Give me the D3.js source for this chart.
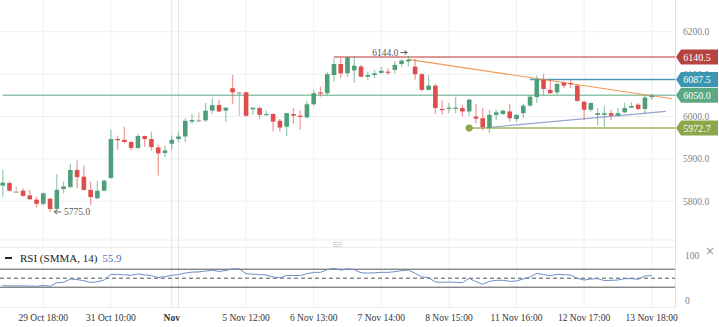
<!DOCTYPE html>
<html>
<head>
<meta charset="utf-8">
<script src="https://cdn.jsdelivr.net/npm/d3@7/dist/d3.min.js"></script>
<style>
  html, body { margin: 0; padding: 0; background: #fff; }
  svg { display: block; font-family: "Liberation Serif", "DejaVu Serif", serif; }
</style>
</head>
<body>
<svg id="chart" width="719" height="327"></svg>
<script>
// candle data (hourly bars, oldest first)
var open  = [5837,5843,5823,5825,5814,5804,5794,5806,5782,5829,5834,5874,5858,5827,5807,5825,5855,5947,5945,5940,
             5926,5954,5947,5927,5914,5936,5947,5953,5988,5991,5991,6014,6027,6014,6067,6057,6057,6017,6020,6004,
             6006,5990,5976,6006,6002,5998,6029,6057,6055,6098,6124,6102,6109,6118,6094,6098,6103,6106,6110,6124,
             6130,6118,6100,6063,6073,6018,6019,6019,6020,6012,6000,5996,5973,6004,6006,6012,5994,6008,6026,6046,
             6087,6063,6057,6080,6079,6073,6035,6016,6004,6004,6008,6002,6010,6021,6028,6018,6046];
var high  = [5874,5847,5835,5831,5827,5811,5821,5808,5864,5847,5889,5896,5884,5847,5848,5850,5969,5955,5976,5943,
             5959,5955,5964,5933,5931,5955,5965,5996,6006,6010,6032,6043,6039,6021,6098,6058,6059,6021,6024,6014,
             6007,5994,6009,6020,6014,6037,6063,6071,6106,6138,6138,6141,6143,6122,6106,6110,6117,6114,6130,6136,
             6144,6136,6102,6097,6077,6038,6032,6047,6028,6042,6030,6020,6016,6016,6016,6030,6006,6030,6051,6097,
             6101,6087,6079,6083,6087,6075,6037,6033,6020,6025,6016,6020,6032,6034,6032,6051,6053];
var low   = [5811,5823,5822,5811,5803,5785,5790,5775,5777,5819,5831,5831,5825,5792,5805,5824,5853,5921,5937,5920,
             5923,5929,5920,5861,5904,5923,5940,5940,5983,5987,5987,6006,6010,5988,6030,6002,5999,6004,5995,6003,
             5965,5965,5954,5983,5969,5996,6026,6047,6051,6083,6091,6094,6079,6093,6085,6091,6101,6098,6102,6118,
             6118,6087,6059,6061,6006,6004,6008,6008,6000,6002,5984,5967,5961,5992,6004,5988,5988,5996,6022,6032,
             6051,6054,6051,6067,6067,6035,5992,6012,5980,5976,5992,6000,6008,6020,6014,6008,6039];
var close = [5844,5825,5823,5813,5805,5794,5819,5782,5827,5835,5874,5857,5827,5810,5825,5849,5947,5944,5940,5926,
             5954,5947,5928,5913,5920,5945,5953,5990,5992,5991,6014,6027,6012,6021,6057,6057,6002,6021,6004,6006,
             5988,5974,6008,6002,5999,6029,6055,6054,6100,6124,6102,6140,6120,6094,6098,6102,6108,6105,6122,6132,
             6134,6100,6063,6073,6020,6015,6021,6021,6012,6040,5995,5975,6004,6010,6014,5996,6004,6026,6047,6087,
             6065,6055,6077,6073,6077,6037,6016,6032,6008,6008,6002,6008,6020,6025,6018,6045,6050];

// RSI (SMMA, 14)
var rsi = [33.5,33,33,33,32.5,32,34,32,40,41,48,47,44.5,40.5,42,46,58.5,58.5,57.5,56.5,
           59.5,57.5,55.5,51.5,53.5,56.5,58,61.5,63.5,64,66,67.5,65,67,71,70.5,60,59,58,57,
           52.5,51,56,56,56,60,63,63,69,72,68,71,69,62,61.5,62,63,63,64.5,66.7,
           68.2,61,52.7,51.2,41.6,40.8,41.6,40.8,40,49.7,42.3,36.4,43,45.3,45.3,43,43.8,48.2,52.7,60.8,
           57.9,55.6,58.6,57.9,57.1,49.7,46,48.2,49,44.5,45.3,46,49,49,47.5,54.9,55.9];

// time axis ticks (candle index -> label)
var tickIdx    = [6, 16, 25, 26, 36, 46, 56, 66, 76, 86, 96];
var tickLabels = ["29 Oct 18:00", "31 Oct 10:00", "Nov", "", "5 Nov 12:00", "6 Nov 13:00",
                  "7 Nov 14:00", "8 Nov 15:00", "11 Nov 16:00", "12 Nov 17:00", "13 Nov 18:00"];
var priceTicks = [5800, 5900, 6000, 6100, 6200];
var rsiTicks   = [0, 100];
var rsiBands   = [30, 50, 70];

// drawn levels (price, first candle index)
var levelValues = [6140.5, 6087.5, 6050.0, 5972.7];
var levelStart  = [49, 78, 0, 69];
var levelColors = ["#d07474", "#4f97b8", "#8fc6aa", "#9bb85c"];
var tagColors   = ["#b5433f", "#3b96b1", "#5ba883", "#8ba64b"];

// trend lines [index, price]
var trendDown = [[60, 6135], [99, 6042]];
var trendUp   = [[71.6, 5974], [98.1, 6012]];

// extreme labels
var lowMark  = {i: 7,  v: 5775.0};
var highMark = {i: 60, v: 6144.0};

var svg = d3.select("#chart");
var plotRight = 675;

var x = d3.scaleLinear().domain([0, 96]).range([2.74, 651.7]);
var y = d3.scaleLinear().domain([5800, 6200]).range([201.3, 31.8]);
var yr = d3.scaleLinear().domain([0, 100]).range([300.7, 255.7]);

var GREEN = "#4e9f79", RED = "#df4c4c", GRAY = "#9a9a9a";

// vertical grid
svg.append("g").selectAll("line")
    .data(tickIdx)
    .enter().append("line")
    .attr("x1", function (d) { return x(d); })
    .attr("x2", function (d) { return x(d); })
    .attr("y1", 0).attr("y2", 308)
    .attr("stroke", function (d, i) { return tickLabels[i] === "Nov" || tickLabels[i] === "" ? "#dfe3e3" : "#eef1f1"; })
    .attr("stroke-width", 1);

// horizontal grid, main pane
svg.append("g").selectAll("line")
    .data(priceTicks)
    .enter().append("line")
    .attr("x1", 0).attr("x2", plotRight)
    .attr("y1", function (d) { return y(d); })
    .attr("y2", function (d) { return y(d); })
    .attr("stroke", "#eef1f1");

// pane separators / borders
[240, 247.5, 307.5].forEach(function (yy) {
    svg.append("line").attr("x1", 0).attr("x2", plotRight)
        .attr("y1", yy).attr("y2", yy).attr("stroke", "#eceff0");
});
svg.append("line").attr("x1", plotRight + 0.5).attr("x2", plotRight + 0.5)
    .attr("y1", 0).attr("y2", 308).attr("stroke", "#dde1e1");

// pane resize handle
[242.5, 244.5, 246.5].forEach(function (yy) {
    svg.append("line").attr("x1", 333).attr("x2", 342)
        .attr("y1", yy).attr("y2", yy).attr("stroke", "#c8cccc").attr("stroke-width", 0.8);
});

// price axis
var yAxis = svg.append("g").attr("transform", "translate(" + (plotRight + 8) + ",0)")
    .call(d3.axisRight(y).tickValues(priceTicks).tickSize(0).tickFormat(d3.format(".1f")));
yAxis.select(".domain").remove();
yAxis.selectAll("text").attr("x", 0).attr("fill", "#808080").style("font-size", "9.5px")
    .style("font-family", "Liberation Serif");

// level lines
var lv = svg.append("g");
levelValues.forEach(function (v, k) {
    lv.append("line")
        .attr("x1", x(levelStart[k])).attr("x2", plotRight)
        .attr("y1", y(v)).attr("y2", y(v))
        .attr("stroke", levelColors[k]).attr("stroke-width", 1.5);
});
lv.append("circle")
    .attr("cx", x(levelStart[3])).attr("cy", y(levelValues[3]))
    .attr("r", 3.6).attr("fill", "#8fa84a");

// trend lines
var line = d3.line().x(function (d) { return x(d[0]); }).y(function (d) { return y(d[1]); });
svg.append("path").datum(trendDown).attr("d", line)
    .attr("stroke", "#f09a58").attr("stroke-width", 1.2).attr("fill", "none");
svg.append("path").datum(trendUp).attr("d", line)
    .attr("stroke", "#97a3d0").attr("stroke-width", 1.2).attr("fill", "none");

// candles
var candles = svg.append("g").selectAll("g")
    .data(d3.range(open.length))
    .enter().append("g");

function candleColor(i) {
    if (close[i] > open[i]) return GREEN;
    if (close[i] < open[i]) return RED;
    return GRAY;
}

candles.append("line")
    .attr("x1", function (i) { return x(i); })
    .attr("x2", function (i) { return x(i); })
    .attr("y1", function (i) { return y(high[i]); })
    .attr("y2", function (i) { return y(low[i]); })
    .attr("stroke", candleColor)
    .attr("stroke-opacity", 0.55)
    .attr("stroke-width", 1.3);

candles.append("rect")
    .attr("x", function (i) { return x(i) - 2.3; })
    .attr("width", 4.6)
    .attr("y", function (i) { return y(Math.max(open[i], close[i])); })
    .attr("height", function (i) { return Math.max(1.2, Math.abs(y(open[i]) - y(close[i]))); })
    .attr("fill", candleColor);

// high / low markers
var mk = svg.append("g").attr("fill", "#5a5a5a").style("font-size", "9.5px");
mk.append("path")
    .attr("d", "M" + (x(lowMark.i) + 4) + "," + y(lowMark.v) + "h7 M" + (x(lowMark.i) + 4) + "," + y(lowMark.v) +
        "l3,-2 M" + (x(lowMark.i) + 4) + "," + y(lowMark.v) + "l3,2")
    .attr("stroke", "#666").attr("fill", "none");
mk.append("text")
    .attr("x", x(lowMark.i) + 14).attr("y", y(lowMark.v)).attr("dy", "0.35em")
    .text(d3.format(".1f")(lowMark.v));
mk.append("text")
    .attr("x", x(highMark.i) - 10).attr("y", y(highMark.v)).attr("dy", "0.1em")
    .attr("text-anchor", "end")
    .text(d3.format(".1f")(highMark.v));
mk.append("path")
    .attr("d", "M" + (x(highMark.i) - 8) + "," + (y(highMark.v) - 3) + "h7 l-3,-2 M" + (x(highMark.i) - 1) + "," +
        (y(highMark.v) - 3) + "l-3,2")
    .attr("stroke", "#666").attr("fill", "none");

// level tags
var tags = svg.append("g");
levelValues.forEach(function (v, k) {
    var cy = y(v), x0 = plotRight + 1, x1 = 718, h = 7.5;
    tags.append("path")
        .attr("d", "M" + x0 + "," + cy + "L" + (x0 + 5) + "," + (cy - h) + "H" + x1 + "V" + (cy + h) +
            "H" + (x0 + 5) + "Z")
        .attr("fill", tagColors[k]);
    tags.append("text")
        .attr("x", 697).attr("y", cy).attr("dy", "0.35em")
        .attr("text-anchor", "middle").attr("fill", "#fff")
        .style("font-size", "10px")
        .text(d3.format(".1f")(v));
});

// RSI pane
rsiBands.forEach(function (b) {
    svg.append("line").attr("x1", 0).attr("x2", plotRight)
        .attr("y1", yr(b)).attr("y2", yr(b))
        .attr("stroke", "#555").attr("stroke-width", 1)
        .attr("stroke-dasharray", b === 50 ? "4,3" : null);
});
svg.append("path").datum(rsi)
    .attr("d", d3.line().x(function (d, i) { return x(i); }).y(function (d) { return yr(d); }))
    .attr("fill", "none").attr("stroke", "#6d90c6").attr("stroke-width", 1);

svg.append("g").selectAll("text")
    .data(rsiTicks)
    .enter().append("text")
    .attr("x", plotRight + 10).attr("y", function (d) { return yr(d); }).attr("dy", "0.35em")
    .attr("fill", "#808080").style("font-size", "9.5px")
    .text(function (d) { return d; });

svg.append("text").attr("x", 710).attr("y", 251).attr("dy", "0.35em")
    .attr("text-anchor", "middle").attr("fill", "#999").style("font-size", "12px")
    .style("font-family", "DejaVu Sans").text("\u00d7");

svg.append("line").attr("x1", 5).attr("x2", 12).attr("y1", 258).attr("y2", 258)
    .attr("stroke", "#222").attr("stroke-width", 2);
var head = svg.append("text").attr("x", 20).attr("y", 258).attr("dy", "0.35em")
    .style("font-size", "11px").attr("fill", "#222");
head.append("tspan").text("RSI (SMMA, 14)");
head.append("tspan").attr("dx", 5).attr("fill", "#4a78b3").text(rsi[rsi.length - 1].toFixed(1));

// time axis labels
svg.append("g").selectAll("text")
    .data(tickIdx)
    .enter().append("text")
    .attr("x", function (d) { return x(d); })
    .attr("y", 318).attr("dy", "0.35em")
    .attr("text-anchor", "middle")
    .attr("fill", "#333")
    .style("font-size", "9.5px")
    .style("font-weight", function (d, i) { return tickLabels[i] === "Nov" ? "bold" : null; })
    .text(function (d, i) { return tickLabels[i]; });
</script>
</body>
</html>
